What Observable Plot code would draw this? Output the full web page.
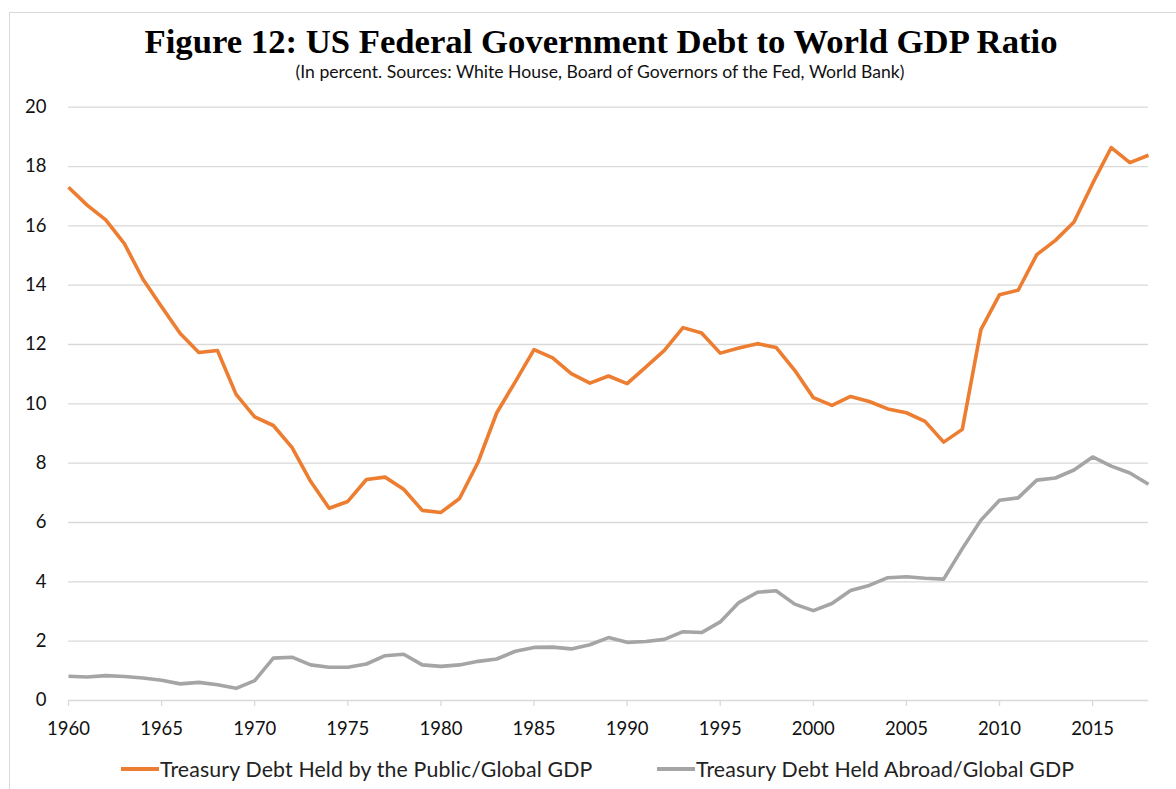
<!DOCTYPE html>
<html>
<head>
<meta charset="utf-8">
<script src="https://cdn.jsdelivr.net/npm/d3@7"></script>
<script src="https://cdn.jsdelivr.net/npm/@observablehq/plot@0.6"></script>
<style>
  html, body { margin: 0; padding: 0; background: #fff; }
  #wrap { position: relative; width: 1176px; height: 789px; overflow: hidden; background: #fff; }
  #frame { position: absolute; left: 9px; top: 12px; width: 1200px; height: 800px; border: 1.3px solid #d9d9d9; box-sizing: border-box; }
  #title { position: absolute; left: 0; width: 1202px; top: 22px; text-align: center;
           font-family: "Liberation Serif", "Times New Roman", serif; font-weight: bold; font-size: 34.7px; color: #000; white-space: nowrap; }
  #subtitle { position: absolute; left: 0; width: 1200px; top: 61px; text-align: center;
           font-family: Lato, "Open Sans", sans-serif; font-size: 17.6px; color: #111; white-space: nowrap; }
  #chart { position: absolute; left: 0; top: 90px; }
  #legend { position: absolute; top: 756px; left: 0; width: 1176px; height: 26px;
            font-family: Lato, "Open Sans", sans-serif; font-size: 21.3px; letter-spacing: 0.15px; color: #222; }
  .item { position: absolute; top: 0; display: flex; align-items: center; white-space: nowrap; height: 26px; }
  .sw { width: 38px; height: 4px; margin-right: 1px; }
</style>
</head>
<body>
<div id="wrap">
  <div id="frame"></div>
  <div id="title"></div>
  <div id="subtitle"></div>
  <div id="chart"></div>
  <div id="legend"></div>
</div>
<script>
const titleText = "Figure 12: US Federal Government Debt to World GDP Ratio";
const subtitleText = "(In percent. Sources: White House, Board of Governors of the Fed, World Bank)";
const seriesNames = ["Treasury Debt Held by the Public/Global GDP", "Treasury Debt Held Abroad/Global GDP"];
const seriesColors = ["#ED7D31", "#A5A5A5"];

const years = d3.range(1960, 2019);
const publicDebt = [
  17.3, 16.7, 16.2, 15.4, 14.2, 13.27, 12.37, 11.73, 11.8, 10.32,
  9.56, 9.27, 8.53, 7.39, 6.48, 6.71, 7.45, 7.53, 7.12, 6.41,
  6.34, 6.81, 8.04, 9.7, 10.75, 11.83, 11.55, 11.02, 10.7, 10.94,
  10.68, 11.24, 11.8, 12.57, 12.39, 11.71, 11.88, 12.03, 11.9, 11.13,
  10.21, 9.95, 10.25, 10.08, 9.83, 9.7, 9.41, 8.71, 9.14, 12.5,
  13.68, 13.83, 15.03, 15.51, 16.13, 17.43, 18.64, 18.13, 18.38
];
const abroadDebt = [
  0.82, 0.79, 0.84, 0.81, 0.76, 0.68, 0.56, 0.61, 0.53, 0.41,
  0.67, 1.43, 1.46, 1.2, 1.12, 1.12, 1.23, 1.51, 1.56, 1.2,
  1.15, 1.2, 1.32, 1.4, 1.66, 1.79, 1.8, 1.74, 1.88, 2.12,
  1.96, 1.99, 2.06, 2.32, 2.29, 2.65, 3.3, 3.65, 3.7, 3.25,
  3.03, 3.27, 3.71, 3.88, 4.14, 4.17, 4.12, 4.09, 5.12, 6.08,
  6.75, 6.83, 7.43, 7.5, 7.77, 8.21, 7.9, 7.67, 7.29
];
const xTicks = d3.range(1960, 2019, 5);
const yTicks = d3.range(0, 21, 2);

document.getElementById("title").textContent = titleText;
document.getElementById("subtitle").textContent = subtitleText;

const data = [
  ...years.map((y, i) => ({year: y, value: publicDebt[i], series: seriesNames[0]})),
  ...years.map((y, i) => ({year: y, value: abroadDebt[i], series: seriesNames[1]}))
];

const chart = Plot.plot({
  width: 1176,
  height: 660,
  marginLeft: 68,
  marginRight: 28,
  marginTop: 16.7,
  marginBottom: 50,
  style: { fontFamily: "Lato, 'Open Sans', sans-serif", fontSize: "18px", color: "#111", background: "transparent", overflow: "visible" },
  x: { domain: [1960, 2018], ticks: xTicks, tickFormat: d => String(d), label: null },
  y: { domain: [0, 20], ticks: yTicks, label: null },
  color: { domain: seriesNames, range: seriesColors },
  marks: [
    Plot.ruleY(yTicks.filter(d => d > 0), { stroke: "#d9d9d9", strokeWidth: 1.3 }),
    Plot.ruleY([0], { stroke: "#d9d9d9", strokeWidth: 1.5 }),
    Plot.axisX({ ticks: xTicks, tickFormat: d => String(d), label: null, tickSize: 6, tickPadding: 15, stroke: "#d9d9d9", strokeWidth: 1.3, fill: "#111", fontSize: 18.5 }),
    Plot.axisY({ ticks: yTicks, label: null, tickSize: 0, tickPadding: 22, fill: "#111", fontSize: 18.5 }),
    Plot.line(data, { x: "year", y: "value", z: "series", stroke: "series", strokeWidth: 3.6, strokeLinejoin: "round", strokeLinecap: "butt" })
  ]
});
document.getElementById("chart").appendChild(chart);

const legend = document.getElementById("legend");
const lefts = [121, 657];
seriesNames.forEach((name, i) => {
  const item = document.createElement("div");
  item.className = "item";
  item.style.left = lefts[i] + "px";
  const sw = document.createElement("div");
  sw.className = "sw";
  sw.style.background = seriesColors[i];
  const t = document.createElement("span");
  t.textContent = name;
  item.appendChild(sw);
  item.appendChild(t);
  legend.appendChild(item);
});
</script>
</body>
</html>
